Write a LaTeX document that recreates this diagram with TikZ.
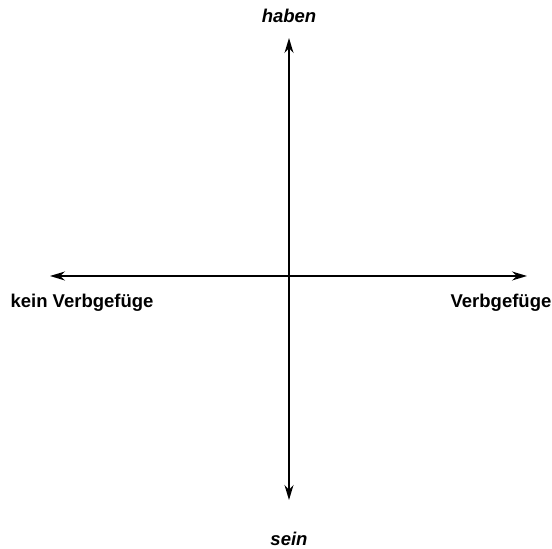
\documentclass[tikz,border=0pt]{standalone}
\usepackage{fontspec}
\setmainfont{Liberation Sans}
\usetikzlibrary{arrows.meta}

\begin{document}
\begin{tikzpicture}[x=1pt, y=1pt,
        axis/.style={line width=1.4pt, {Stealth[length=15pt, width=9pt]}-{Stealth[length=15pt, width=9pt]}},
        pole/.style={font=\fontsize{18.5}{22}\selectfont\bfseries\itshape, inner sep=0pt},
        side/.style={font=\fontsize{18.5}{22}\selectfont\bfseries, inner sep=0pt}]

        \useasboundingbox (0, 0) rectangle (552, 549);

        % Define the ends of the two axes
        \coordinate (top) at (289, 511);
        \coordinate (bottom) at (289, 49);
        \coordinate (left) at (50, 273);
        \coordinate (right) at (527, 273);

        % Labels at the four ends
        \node[pole] (haben) at (289, 533) {haben};
        \node[pole] (sein) at (289, 10) {sein};
        \node[side] (kein) at (82, 246) {kein Verbgefüge};
        \node[side] (verb) at (501, 246) {Verbgefüge};

        % Draw the axes
        \draw[axis] (bottom) -- (top);
        \draw[axis] (left) -- (right);
\end{tikzpicture}
\end{document}
